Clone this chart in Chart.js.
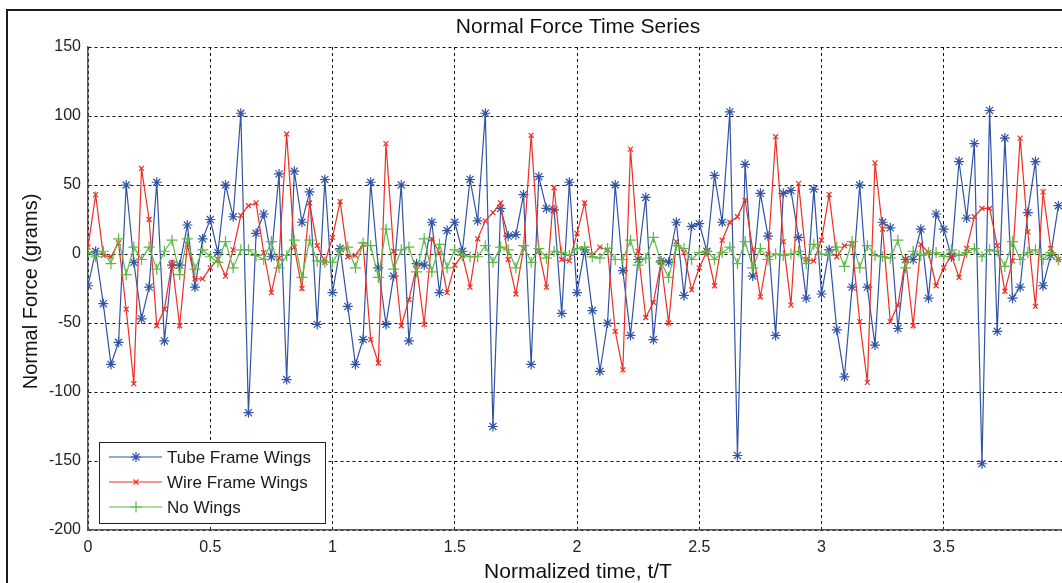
<!DOCTYPE html>
<html>
<head>
<meta charset="utf-8">
<script src="https://cdn.jsdelivr.net/npm/chart.js@4.4.1/dist/chart.umd.min.js"></script>
<style>
  html, body { margin: 0; padding: 0; background: #fff; overflow: hidden; width: 1062px; height: 583px; }
  #wrap { position: relative; width: 1080px; height: 583px; }
  #frame { position: absolute; left: 6px; top: 9px; width: 2000px; height: 2000px;
           border-left: 2px solid #1c1c1c; border-top: 2px solid #1c1c1c; pointer-events: none; }
  canvas { position: absolute; left: 0; top: 0; }
</style>
</head>
<body>
<div id="wrap">
  <canvas id="forceChart" width="1080" height="583"></canvas>
  <div id="frame"></div>
</div>
<script>
// samples per period (t/T)
const sampleRate = 32;

// Normal force readings (grams), one per sample
const tubeFrame = [
  -23, 2, -36, -80, -64, 50, -6, -47, -24, 52, -63, -8, -8, 21, -24, 11,
  25, 1, 50, 27, 102, -115, 15, 29, -2, 58, -91, 60, 23, 45, -51, 54,
  -28, 4, -38, -80, -62, 52, -10, -51, -16, 50, -63, -7, -8, 23, -28, 17,
  23, 2, 54, 24, 102, -125, 33, 13, 14, 43, -80, 56, 33, 32, -43, 52,
  -28, 3, -41, -85, -50, 50, -12, -59, -4, 41, -62, -5, -6, 23, -30, 20,
  22, 2, 57, 23, 103, -146, 65, -16, 44, 13, -59, 44, 46, 12, -32, 47,
  -29, 3, -55, -89, -24, 50, -24, -66, 23, 19, -54, -4, -4, 18, -32, 29,
  18, -2, 67, 26, 80, -152, 104, -56, 84, -32, -24, 30, 67, -23, -1, 35
];
const wireFrame = [
  5, 43, -1, -2, 8, -40, -94, 62, 25, -52, -40, -6, -52, 7, -18, -18,
  -10, -4, -16, 3, 28, 35, 37, 1, -28, -3, 87, 5, -25, 37, 6, -6,
  12, 38, -2, -1, 7, -62, -79, 80, 2, -52, -33, -9, -51, 11, 1, -28,
  -8, -1, -24, 11, 24, 30, 37, -4, -29, 4, 86, 2, -24, 48, -4, -5,
  15, 37, -1, 5, 3, -56, -84, 76, 2, -46, -35, -6, -50, 9, 1, -26,
  -10, 2, -23, 10, 23, 27, 39, 3, -31, 0, 85, 9, -37, 51, -4, -5,
  10, 43, -2, 6, 7, -49, -93, 66, 18, -49, -37, -4, -52, 7, 1, -23,
  -10, -1, -17, 4, 27, 33, 33, 6, -27, -5, 84, 16, -38, 45, 4, -4
];
const noWings = [
  1, -2, 2, -7, 11, -15, 5, -4, 5, -11, 2, 10, -15, 11, -11, 3,
  -2, -6, 9, -10, 3, 3, -1, -4, 9, -10, -1, 10, -17, 10, -5, -6,
  -6, 3, 5, -10, 8, 6, -17, 18, -11, 3, 5, -13, 11, -13, 7, -10,
  3, -1, -2, -2, 6, -6, 5, 3, -10, 6, -6, 4, -3, 2, 1, -1,
  4, 5, -2, -3, 4, -4, -4, 10, -8, -3, 12, -6, -17, 6, 4, -4,
  1, 2, -4, 1, 5, -7, 9, -10, 4, -4, 0, -1, 0, 2, -7, 7,
  0, -1, 5, -9, 9, -10, 6, -1, -2, -3, 10, -10, 2, -1, 1, 1,
  -2, 3, -1, 1, 4, -2, 3, 2, -9, 9, -4, 1, 3, -4, 1, -4
];

// axis ticks (the t = 4 end is cut off in the original figure)
const xTicks = [0, 0.5, 1, 1.5, 2, 2.5, 3, 3.5];
const yTicks = [-200, -150, -100, -50, 0, 50, 100, 150];

const seriesNames = ['Tube Frame Wings', 'Wire Frame Wings', 'No Wings'];
const seriesColors = ['#3153a6', '#ee2e24', '#5cba45'];
const seriesMarkers = ['star', 'crossRot', 'cross'];
const markerSizes = [5, 3.5, 5.5];

const FONT = '"Liberation Sans", Arial, Helvetica, sans-serif';

function toPoints(values) {
  return values.map((v, i) => ({ x: i / sampleRate, y: v }));
}

// titles + legend box drawn on top of the plot
const figureText = {
  id: 'figureText',
  afterDraw(chart) {
    const { ctx, chartArea } = chart;
    const cx = (chartArea.left + chartArea.right) / 2 + 1;
    ctx.save();
    ctx.fillStyle = '#111';
    ctx.textAlign = 'center';
    ctx.textBaseline = 'middle';
    ctx.font = '21px ' + FONT;
    ctx.fillText('Normal Force Time Series', cx, 27);
    ctx.fillText('Normalized time, t/T', cx, 572);
    ctx.translate(31, (chartArea.top + chartArea.bottom) / 2 + 3);
    ctx.rotate(-Math.PI / 2);
    ctx.font = '20px ' + FONT;
    ctx.fillText('Normal Force (grams)', 0, 0);
    ctx.restore();

    // legend
    ctx.save();
    ctx.fillStyle = '#fff';
    ctx.fillRect(99, 442, 226, 81);
    ctx.strokeStyle = '#222';
    ctx.lineWidth = 1;
    ctx.strokeRect(99.5, 442.5, 226, 81);
    ctx.font = '17px ' + FONT;
    ctx.textAlign = 'left';
    ctx.textBaseline = 'middle';
    seriesNames.forEach((name, k) => {
      const y = 457 + k * 25;
      ctx.strokeStyle = seriesColors[k];
      ctx.lineWidth = 1.2;
      ctx.beginPath();
      ctx.moveTo(109, y);
      ctx.lineTo(162, y);
      ctx.stroke();
      Chart.helpers.drawPoint(ctx, {
        pointStyle: seriesMarkers[k], radius: markerSizes[k], borderWidth: 1.2, rotation: 0
      }, 136, y);
      ctx.fillStyle = '#1a1a1a';
      ctx.fillText(name, 167, y + 1);
    });
    ctx.restore();
  }
};

const ctx = document.getElementById('forceChart').getContext('2d');
const chart = new Chart(ctx, {
  type: 'line',
  data: {
    datasets: [tubeFrame, wireFrame, noWings].map((vals, k) => ({
      label: seriesNames[k],
      data: toPoints(vals),
      borderColor: seriesColors[k],
      backgroundColor: seriesColors[k],
      pointBorderColor: seriesColors[k],
      borderWidth: 1.2,
      pointStyle: seriesMarkers[k],
      pointRadius: markerSizes[k],
      pointBorderWidth: 1.2,
      tension: 0,
      order: 3 - k
    }))
  },
  options: {
    responsive: false,
    animation: false,
    devicePixelRatio: 1,
    layout: { padding: { left: 0, right: 14, top: 47, bottom: 0 } },
    plugins: { legend: { display: false }, tooltip: { enabled: false } },
    scales: {
      x: {
        type: 'linear',
        min: 0,
        max: 4,
        afterBuildTicks: s => { s.ticks = xTicks.map(v => ({ value: v })); },
        afterFit: s => { s.height = 53; },
        ticks: { color: '#222', font: { size: 16, family: FONT }, padding: 8, maxRotation: 0,
                 callback: v => String(v) },
        grid: { color: '#111', lineWidth: 1, drawTicks: false },
        border: { display: true, color: '#555', width: 1.5, dash: [3, 3] }
      },
      y: {
        min: -200,
        max: 150,
        afterBuildTicks: s => { s.ticks = yTicks.map(v => ({ value: v })); },
        afterFit: s => { s.width = 88; },
        ticks: { color: '#222', font: { size: 16, family: FONT }, padding: 7,
                 callback: v => String(v) },
        grid: { color: '#111', lineWidth: 1, drawTicks: false },
        border: { display: true, color: '#555', width: 1.5, dash: [3, 3] }
      }
    }
  },
  plugins: [figureText]
});
</script>
</body>
</html>
